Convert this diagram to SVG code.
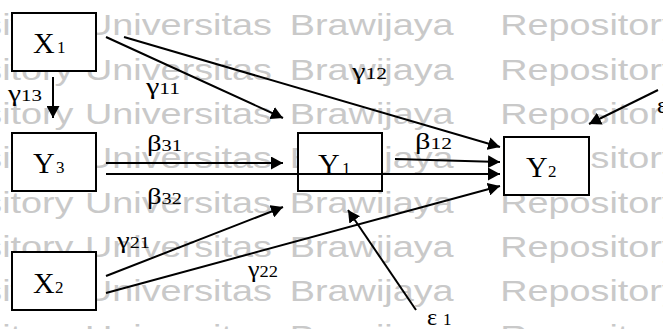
<svg xmlns="http://www.w3.org/2000/svg" width="663" height="329" viewBox="0 0 663 329">
<style>
.wm{font-family:"Liberation Sans",Arial,sans-serif;font-size:30px;fill:#c9c9c9}
.box{fill:#fff;stroke:#000;stroke-width:2}
.nl{font-family:"Liberation Serif","Times New Roman",serif;font-size:30px;fill:#000}
.sub{font-size:17px}
.lb{font-family:"Liberation Serif","Times New Roman",serif;font-size:24px;fill:#000}
.ls{font-size:17px}
.c{stroke:#000;stroke-width:2;fill:none;marker-end:url(#ah)}
</style>
<defs>
<marker id="ah" markerUnits="userSpaceOnUse" markerWidth="13" markerHeight="13" refX="12" refY="6.5" orient="auto">
<path d="M0,0 L12,6.5 L0,13 z" fill="#000"/>
</marker>
</defs>
<rect width="663" height="329" fill="#fff"/>
<g id="watermark" class="wm" transform="scale(1.26,1)">
<text y="-9"><tspan x="-85">Repository</tspan><tspan x="67.5">Universitas</tspan><tspan x="230">Brawijaya</tspan><tspan x="397">Repository</tspan></text>
<text y="35.5"><tspan x="-85">Repository</tspan><tspan x="67.5">Universitas</tspan><tspan x="230">Brawijaya</tspan><tspan x="397">Repository</tspan></text>
<text y="79.8"><tspan x="-85">Repository</tspan><tspan x="67.5">Universitas</tspan><tspan x="230">Brawijaya</tspan><tspan x="397">Repository</tspan></text>
<text y="124.1"><tspan x="-85">Repository</tspan><tspan x="67.5">Universitas</tspan><tspan x="230">Brawijaya</tspan><tspan x="397">Repository</tspan></text>
<text y="168.4"><tspan x="-85">Repository</tspan><tspan x="67.5">Universitas</tspan><tspan x="230">Brawijaya</tspan><tspan x="397">Repository</tspan></text>
<text y="212.7"><tspan x="-85">Repository</tspan><tspan x="67.5">Universitas</tspan><tspan x="230">Brawijaya</tspan><tspan x="397">Repository</tspan></text>
<text y="257"><tspan x="-85">Repository</tspan><tspan x="67.5">Universitas</tspan><tspan x="230">Brawijaya</tspan><tspan x="397">Repository</tspan></text>
<text y="301.3"><tspan x="-85">Repository</tspan><tspan x="67.5">Universitas</tspan><tspan x="230">Brawijaya</tspan><tspan x="397">Repository</tspan></text>
<text y="345.6"><tspan x="-85">Repository</tspan><tspan x="67.5">Universitas</tspan><tspan x="230">Brawijaya</tspan><tspan x="397">Repository</tspan></text>
</g>
<g id="X1"><rect class="box" x="12" y="13" width="84" height="58"/><text class="nl" x="33" y="53">X<tspan class="sub" x="57">1</tspan></text></g>
<g id="Y3"><rect class="box" x="12" y="133" width="84" height="58"/><text class="nl" x="33" y="173">Y<tspan class="sub" x="56">3</tspan></text></g>
<g id="X2"><rect class="box" x="12" y="252" width="84" height="58"/><text class="nl" x="33" y="293">X<tspan class="sub" x="55">2</tspan></text></g>
<g id="Y1"><rect class="box" x="298" y="133" width="84" height="58"/><text class="nl" x="318" y="174">Y<tspan class="sub" x="342">1</tspan></text></g>
<g id="Y2"><rect class="box" x="504" y="137" width="85" height="58"/><text class="nl" x="526" y="177">Y<tspan class="sub" x="548">2</tspan></text></g>
<g id="connectors">
<line class="c" x1="53" y1="77" x2="53" y2="118"/>
<line class="c" x1="106" y1="37" x2="283" y2="118"/>
<line class="c" x1="124" y1="37" x2="500" y2="147"/>
<line class="c" x1="106" y1="163" x2="283" y2="163"/>
<line class="c" x1="106" y1="174" x2="500" y2="174"/>
<line class="c" x1="395" y1="159" x2="500" y2="162"/>
<line class="c" x1="106" y1="276" x2="283" y2="207"/>
<line class="c" x1="106" y1="293" x2="500" y2="186"/>
<line class="c" x1="416" y1="310" x2="348" y2="210"/>
<line class="c" x1="658" y1="90" x2="589" y2="124"/>
</g>
<g id="labels">
<text class="lb" x="8" y="101" textLength="34" lengthAdjust="spacingAndGlyphs">γ<tspan class="ls">13</tspan></text>
<text class="lb" x="146" y="94" textLength="34" lengthAdjust="spacingAndGlyphs">γ<tspan class="ls">11</tspan></text>
<text class="lb" x="352" y="79" textLength="35" lengthAdjust="spacingAndGlyphs">γ<tspan class="ls">12</tspan></text>
<text class="lb" x="147" y="151" textLength="35" lengthAdjust="spacingAndGlyphs">β<tspan class="ls">31</tspan></text>
<text class="lb" x="415" y="149" textLength="37" lengthAdjust="spacingAndGlyphs">β<tspan class="ls">12</tspan></text>
<text class="lb" x="147" y="204" textLength="35" lengthAdjust="spacingAndGlyphs">β<tspan class="ls">32</tspan></text>
<text class="lb" x="117" y="248" textLength="33" lengthAdjust="spacingAndGlyphs">γ<tspan class="ls">21</tspan></text>
<text class="lb" x="248" y="277" textLength="30" lengthAdjust="spacingAndGlyphs">γ<tspan class="ls">22</tspan></text>
<text class="lb" x="427" y="325">ε<tspan class="ls" x="443">1</tspan></text>
<text class="lb" x="657" y="113">ε<tspan class="ls">2</tspan></text>
</g>
</svg>
